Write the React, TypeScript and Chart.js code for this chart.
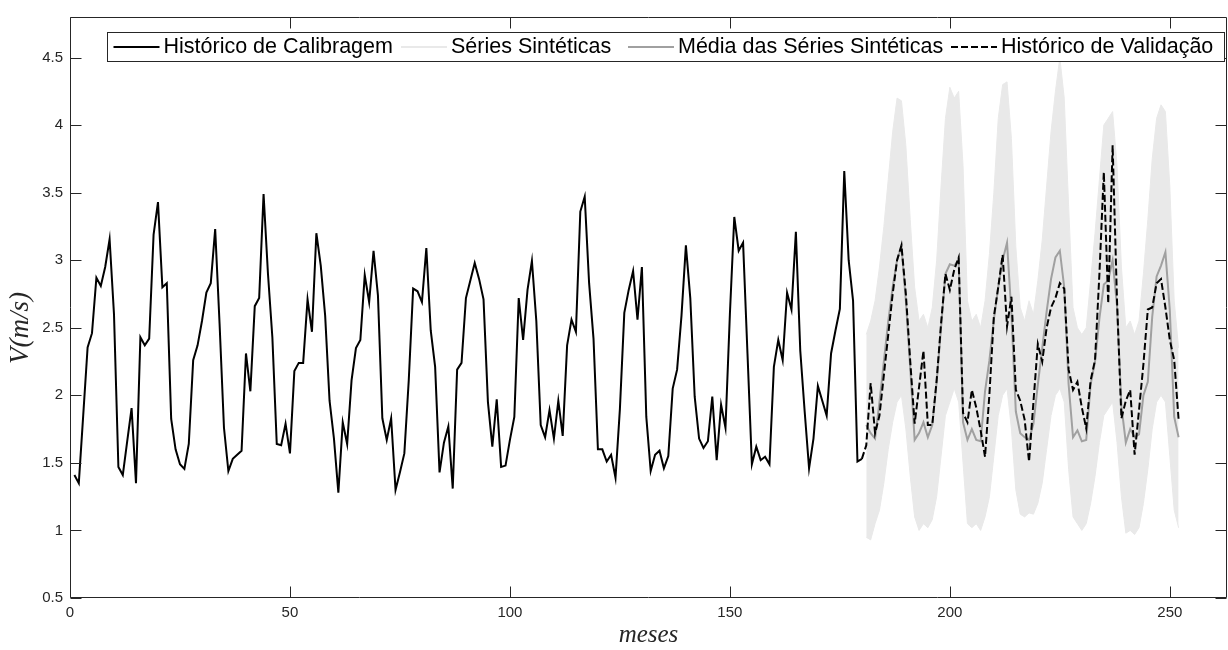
import React, { useEffect, useRef } from "react";
import { Chart, registerables } from "chart.js";

Chart.register(...registerables);

// Monthly mean wind speed, calibration record (months 1..180)
const calibrationStart = 1;
const calibration = [
  1.41, 1.35, 1.85, 2.355, 2.46, 2.87, 2.81, 2.95, 3.155, 2.6,
  1.47, 1.41, 1.66, 1.905, 1.35, 2.43, 2.37, 2.42, 3.19, 3.43,
  2.8, 2.83, 1.825, 1.6, 1.49, 1.455, 1.64, 2.26, 2.37, 2.55,
  2.76, 2.83, 3.23, 2.53, 1.76, 1.44, 1.53, 1.56, 1.59, 2.31,
  2.03, 2.66, 2.72, 3.49, 2.9, 2.43, 1.64, 1.63, 1.79, 1.57,
  2.18, 2.24, 2.24, 2.71, 2.47, 3.2, 2.96, 2.59, 1.96, 1.68,
  1.28, 1.8, 1.64, 2.11, 2.35, 2.41, 2.89, 2.69, 3.07, 2.74,
  1.83, 1.67, 1.83, 1.3, 1.43, 1.57, 2.11, 2.79, 2.77, 2.69,
  3.09, 2.48, 2.21, 1.43, 1.65, 1.77, 1.31, 2.19, 2.24, 2.72,
  2.85, 2.98, 2.86, 2.71, 1.95, 1.62, 1.97, 1.47, 1.48, 1.67,
  1.84, 2.72, 2.41, 2.78, 2.995, 2.55, 1.78, 1.69, 1.89, 1.68,
  1.96, 1.7, 2.37, 2.56, 2.47, 3.36, 3.47, 2.83, 2.42, 1.6,
  1.6, 1.51, 1.56, 1.39, 1.9, 2.61, 2.78, 2.92, 2.56, 2.95,
  1.84, 1.44, 1.56, 1.59, 1.46, 1.55, 2.05, 2.19, 2.59, 3.11,
  2.72, 1.99, 1.68, 1.61, 1.66, 1.99, 1.52, 1.93, 1.76, 2.6,
  3.32, 3.07, 3.13, 2.31, 1.49, 1.62, 1.52, 1.545, 1.49, 2.21,
  2.41, 2.26, 2.76, 2.635, 3.21, 2.33, 1.88, 1.46, 1.68, 2.07,
  1.96, 1.85, 2.31, 2.48, 2.64, 3.66, 3.0, 2.7, 1.51, 1.53,
];

// Validation record (months 180..252)
const validationStart = 180;
const validation = [
  1.53, 1.63, 2.09, 1.72, 1.85, 2.15, 2.45, 2.75, 3.0, 3.11,
  2.75, 2.25, 1.79, 2.06, 2.33, 1.78, 1.78, 2.11, 2.53, 2.9,
  2.78, 2.93, 3.02, 1.87, 1.8, 2.04, 1.91, 1.74, 1.545, 2.01,
  2.58, 2.8, 3.04, 2.51, 2.73, 2.04, 1.96, 1.82, 1.51, 1.95,
  2.38, 2.25, 2.5, 2.65, 2.72, 2.83, 2.79, 2.19, 2.04, 2.1,
  1.91, 1.755, 2.11, 2.26, 2.9, 3.65, 2.68, 3.85, 2.7, 1.83,
  1.96, 2.04, 1.56, 1.89, 2.23, 2.635, 2.65, 2.83, 2.86, 2.65,
  2.41, 2.26, 1.82,
];

// Synthetic series (months 181..252): mean and envelope of the ensemble
const syntheticStart = 181;
const syntheticMean = [
  1.78, 1.72, 1.68, 1.95, 2.25, 2.55, 2.8, 3.0, 3.1, 2.7,
  2.2, 1.67, 1.72, 1.8, 1.69, 1.78, 2.1, 2.5, 2.9, 2.97,
  2.96, 3.0, 1.8, 1.67, 1.75, 1.67, 1.66, 2.03, 2.26, 2.56,
  2.8, 3.0, 3.13, 2.6, 1.88, 1.72, 1.69, 1.67, 1.79, 2.08,
  2.35, 2.62, 2.86, 3.02, 3.07, 2.8, 2.08, 1.69, 1.74, 1.66,
  1.67, 2.08, 2.25, 2.57, 2.82, 2.85, 3.0, 2.66, 1.92, 1.65,
  1.75, 1.69, 1.71, 2.0, 2.1, 2.58, 2.88, 2.96, 3.06, 2.63,
  1.84, 1.69,
];
const syntheticMax = [
  2.45, 2.55, 2.7, 2.95, 3.25, 3.6, 3.95, 4.2, 4.18, 3.85,
  3.3, 2.8, 2.55, 2.6, 2.5, 2.65, 3.0, 3.55, 4.05, 4.28,
  4.2, 4.25, 3.7, 2.7, 2.55, 2.6, 2.5, 2.7, 3.05, 3.5,
  4.05, 4.3, 4.32, 3.9, 3.1, 2.65, 2.55, 2.7, 2.6, 2.85,
  3.15, 3.55, 3.95, 4.25, 4.5, 4.2, 3.4, 2.65, 2.5, 2.45,
  2.5, 2.85, 3.2, 3.6, 4.0, 4.05, 4.1, 3.7, 2.95, 2.5,
  2.55, 2.45, 2.55, 2.9, 3.3, 3.75, 4.05, 4.15, 4.1, 3.55,
  2.7, 2.35,
];
const syntheticMin = [
  0.95, 0.93, 1.05, 1.15, 1.35, 1.6, 1.8, 1.95, 2.0, 1.75,
  1.4, 1.1, 1.0, 1.05, 1.02, 1.08, 1.25, 1.55, 1.85, 1.95,
  2.05, 1.95, 1.5, 1.05, 1.02, 1.05, 1.0, 1.1, 1.25, 1.55,
  1.85, 2.0, 2.05, 1.75, 1.3, 1.12, 1.1, 1.13, 1.12, 1.2,
  1.35, 1.6, 1.85, 2.0, 2.05, 1.95, 1.45, 1.1, 1.05, 1.0,
  1.05, 1.2, 1.4, 1.65, 1.85, 1.9, 1.95, 1.65, 1.25, 0.98,
  1.0, 0.97, 1.02, 1.2, 1.45, 1.75, 1.95, 2.0, 1.95, 1.55,
  1.15, 1.02,
];

const xTicks = [0, 50, 100, 150, 200, 250];
const yTicks = [0.5, 1, 1.5, 2, 2.5, 3, 3.5, 4, 4.5];

const legendLabels = [
  "Histórico de Calibragem",
  "Séries Sintéticas",
  "Média das Séries Sintéticas",
  "Histórico de Validação",
];

const AXIS = "#262626";
const BAND = "rgb(233,233,233)";
const MEAN = "rgb(160,160,160)";
const SANS = "'Liberation Sans', Arial, Helvetica, sans-serif";
const SERIF = "'Liberation Serif', 'Times New Roman', serif";

const toPoints = (start: number, values: number[]) =>
  values.map((y, i) => ({ x: start + i, y }));

// Box frame with inward tick marks on all four sides, plus the y-axis label
const frameTicks = {
  id: "frameTicks",
  afterDatasetsDraw(chart: any) {
    const { ctx, chartArea: a, scales } = chart;
    const L = Math.round(a.left) + 0.5;
    const R = Math.round(a.right) - 0.5;
    const T = Math.round(a.top) + 0.5;
    const B = Math.round(a.bottom) - 0.5;
    const len = 11;
    ctx.save();
    ctx.strokeStyle = AXIS;
    ctx.lineWidth = 1;
    ctx.beginPath();
    ctx.rect(L, T, R - L, B - T);
    xTicks.forEach((v) => {
      const x = Math.round(scales.x.getPixelForValue(v)) + 0.5;
      ctx.moveTo(x, B);
      ctx.lineTo(x, B - len);
      ctx.moveTo(x, T);
      ctx.lineTo(x, T + len);
    });
    yTicks.forEach((v) => {
      const y = Math.round(scales.y.getPixelForValue(v)) + 0.5;
      ctx.moveTo(L, y);
      ctx.lineTo(L + len, y);
      ctx.moveTo(R, y);
      ctx.lineTo(R - len, y);
    });
    ctx.stroke();

    // y-axis label
    ctx.translate(21, 328);
    ctx.rotate(-Math.PI / 2);
    ctx.fillStyle = AXIS;
    ctx.font = `italic 27px ${SERIF}`;
    ctx.textAlign = "center";
    ctx.textBaseline = "middle";
    ctx.fillText("V(m/s)", 0, 0);
    ctx.restore();
  },
};

// Single-row boxed legend in the upper part of the axes
const boxLegend = {
  id: "boxLegend",
  afterDraw(chart: any) {
    const { ctx } = chart;
    const styles = [
      { color: "#000000", dash: [] as number[] },
      { color: BAND, dash: [] as number[] },
      { color: MEAN, dash: [] as number[] },
      { color: "#000000", dash: [7, 3] },
    ];
    const textStart = [163.5, 451, 678, 1001];
    const left = 107.5;
    const right = 1224.5;
    const top = 32.5;
    const height = 29;
    const sample = 46;
    const cy = top + height / 2;
    ctx.save();
    ctx.fillStyle = "#ffffff";
    ctx.fillRect(left, top, right - left, height);
    ctx.strokeStyle = AXIS;
    ctx.lineWidth = 1;
    ctx.strokeRect(left, top, right - left, height);
    ctx.font = `21.5px ${SANS}`;
    legendLabels.forEach((label, i) => {
      const x0 = textStart[i] - 4 - sample;
      ctx.beginPath();
      ctx.setLineDash(styles[i].dash);
      ctx.strokeStyle = styles[i].color;
      ctx.lineWidth = 2;
      ctx.moveTo(x0, cy);
      ctx.lineTo(x0 + sample, cy);
      ctx.stroke();
      ctx.setLineDash([]);
      ctx.fillStyle = "#000000";
      ctx.textBaseline = "middle";
      ctx.textAlign = "left";
      ctx.fillText(label, textStart[i], cy);
    });
    ctx.restore();
  },
};

export default function App() {
  const canvasRef = useRef<HTMLCanvasElement | null>(null);

  useEffect(() => {
    if (!canvasRef.current) return;
    Chart.defaults.font.family = SANS;
    const chart = new Chart(canvasRef.current, {
      type: "line",
      data: {
        datasets: [
          {
            label: legendLabels[0],
            data: toPoints(calibrationStart, calibration),
            borderColor: "#000000",
            borderWidth: 2,
            pointRadius: 0,
            fill: false,
            order: 0,
          },
          {
            label: legendLabels[1],
            data: toPoints(syntheticStart, syntheticMax),
            borderColor: BAND,
            backgroundColor: BAND,
            borderWidth: 1,
            pointRadius: 0,
            fill: "+1",
            order: 3,
          },
          {
            label: "min",
            data: toPoints(syntheticStart, syntheticMin),
            borderColor: BAND,
            borderWidth: 1,
            pointRadius: 0,
            fill: false,
            order: 3,
          },
          {
            label: legendLabels[2],
            data: toPoints(syntheticStart, syntheticMean),
            borderColor: MEAN,
            borderWidth: 2,
            pointRadius: 0,
            fill: false,
            order: 2,
          },
          {
            label: legendLabels[3],
            data: toPoints(validationStart, validation),
            borderColor: "#000000",
            borderWidth: 2,
            borderDash: [7, 3],
            pointRadius: 0,
            fill: false,
            order: 1,
          },
        ],
      },
      options: {
        responsive: false,
        animation: false,
        layout: { padding: { top: 17, right: 1, left: 0, bottom: 0 } },
        plugins: {
          legend: { display: false },
          tooltip: { enabled: false },
        },
        scales: {
          x: {
            type: "linear",
            min: 0,
            max: 263,
            grid: { display: false, drawTicks: false },
            border: { display: false },
            ticks: {
              stepSize: 50,
              includeBounds: false,
              color: AXIS,
              font: { size: 15 },
              padding: 6,
              maxRotation: 0,
              callback: (v: any) => `${Number(v)}`,
            },
            title: {
              display: true,
              text: "meses",
              color: AXIS,
              font: { family: SERIF, style: "italic", size: 25 },
              padding: { top: 0, bottom: 0 },
            },
            afterFit: (s: any) => {
              s.height = 52;
            },
          },
          y: {
            type: "linear",
            min: 0.5,
            max: 4.8,
            grid: { display: false, drawTicks: false },
            border: { display: false },
            ticks: {
              stepSize: 0.5,
              includeBounds: false,
              color: AXIS,
              font: { size: 15 },
              padding: 7,
              callback: (v: any) => `${Number(v)}`,
            },
            title: { display: false },
            afterFit: (s: any) => {
              s.width = 70;
            },
          },
        },
      },
      plugins: [frameTicks, boxLegend],
    });
    return () => chart.destroy();
  }, []);

  return (
    <div style={{ position: "absolute", left: 0, top: 0, width: 1228, height: 650, background: "#ffffff" }}>
      <canvas ref={canvasRef} width={1228} height={650} style={{ display: "block" }} />
    </div>
  );
}
